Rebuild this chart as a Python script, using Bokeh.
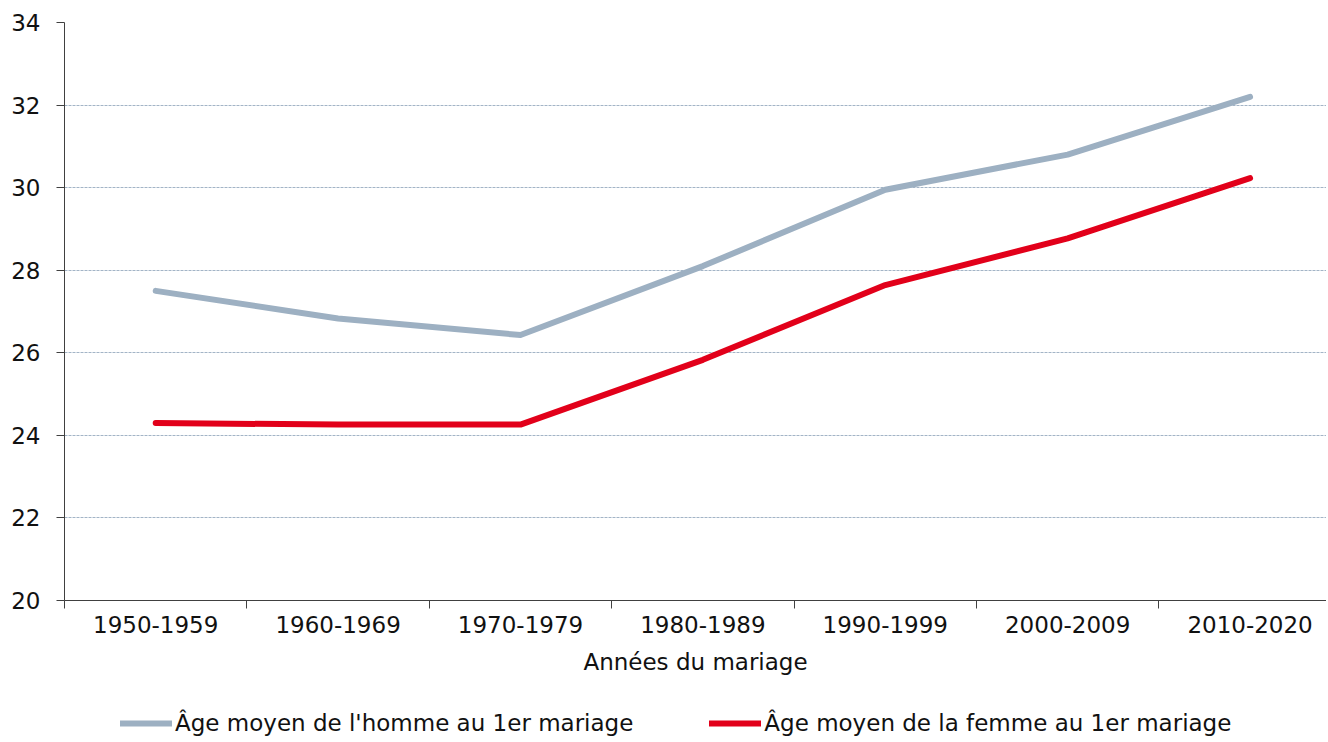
from bokeh.plotting import figure
from bokeh.layouts import column
from bokeh.models import FixedTicker, Range1d, Legend, LegendItem, ColumnDataSource
from bokeh.embed import file_html
from bokeh.resources import INLINE

categories = ["1950-1959", "1960-1969", "1970-1979", "1980-1989", "1990-1999", "2000-2009", "2010-2020"]
men = [27.5, 26.83, 26.43, 28.1, 29.95, 30.8, 32.2]
women = [24.3, 24.26, 24.26, 25.83, 27.64, 28.77, 30.23]
men_label = "Âge moyen de l'homme au 1er mariage"
women_label = "Âge moyen de la femme au 1er mariage"
y_ticks = [20, 22, 24, 26, 28, 30, 32, 34]

FONT = "DejaVu Sans"
FS = "23px"
MEN_COLOR = "#9DB0C2"
WOMEN_COLOR = "#E2001A"
W = 1326
xs = list(range(len(categories)))

p = figure(width=W, height=690, output_backend="svg", toolbar_location=None,
           x_range=Range1d(-0.5, 6.419), y_range=Range1d(20, 34),
           min_border_left=64, min_border_right=0, min_border_top=22, min_border_bottom=90)
p.outline_line_color = None

src = ColumnDataSource(dict(x=xs, men=men, women=women))
p.line("x", "men", source=src, line_color=MEN_COLOR, line_width=6, line_cap="round", line_join="round")
p.line("x", "women", source=src, line_color=WOMEN_COLOR, line_width=6, line_cap="round", line_join="round")

# x axis
xa = p.xaxis[0]
xa.ticker = FixedTicker(ticks=xs, minor_ticks=[i - 0.5 for i in range(len(categories) + 1)])
xa.major_label_overrides = {i: c for i, c in enumerate(categories)}
xa.major_tick_out = 0
xa.major_tick_in = 0
xa.minor_tick_out = 8
xa.minor_tick_in = 0
xa.minor_tick_line_color = "#404040"
xa.axis_line_color = "#404040"
xa.major_label_text_font = FONT
xa.major_label_text_font_size = FS
xa.major_label_text_color = "#111111"
xa.major_label_standoff = 7
xa.axis_label = "Années du mariage"
xa.axis_label_text_font = FONT
xa.axis_label_text_font_size = FS
xa.axis_label_text_font_style = "normal"
xa.axis_label_text_color = "#111111"
xa.axis_label_standoff = 13

ya = p.yaxis[0]
ya.ticker = FixedTicker(ticks=y_ticks)
ya.minor_tick_line_color = None
ya.major_tick_out = 8
ya.major_tick_in = 0
ya.major_tick_line_color = "#404040"
ya.axis_line_color = "#404040"
ya.major_label_text_font = FONT
ya.major_label_text_font_size = FS
ya.major_label_text_color = "#111111"
ya.major_label_standoff = 16

p.xgrid.grid_line_color = None
p.ygrid.grid_line_color = "#A3B4C6"
p.ygrid.grid_line_dash = "3 1"
p.ygrid.grid_line_width = 1

# legend strip (its lines carry the same series, clipped out of this strip's range)
p2 = figure(width=W, height=50, output_backend="svg", toolbar_location=None,
            x_range=Range1d(-0.5, 6.419), y_range=Range1d(0, 1),
            x_axis_location=None, y_axis_location=None,
            min_border_left=64, min_border_right=0, min_border_top=0, min_border_bottom=0)
p2.outline_line_color = None
p2.xgrid.visible = False
p2.ygrid.visible = False
l1 = p2.line("x", "men", source=src, line_color=MEN_COLOR, line_width=6, line_cap="round")
l2 = p2.line("x", "women", source=src, line_color=WOMEN_COLOR, line_width=6, line_cap="round")

legend = Legend(items=[LegendItem(label=men_label, renderers=[l1]),
                       LegendItem(label=women_label, renderers=[l2])],
                orientation="horizontal", location=(56, 4),
                label_text_font=FONT, label_text_font_size=FS, label_text_color="#111111",
                glyph_width=52, glyph_height=20, spacing=76, label_standoff=3,
                border_line_color=None, background_fill_alpha=0, margin=0, padding=0)
p2.add_layout(legend, "center")

layout = column(p, p2, spacing=0)
open("out.html", "w").write(file_html(layout, INLINE))
